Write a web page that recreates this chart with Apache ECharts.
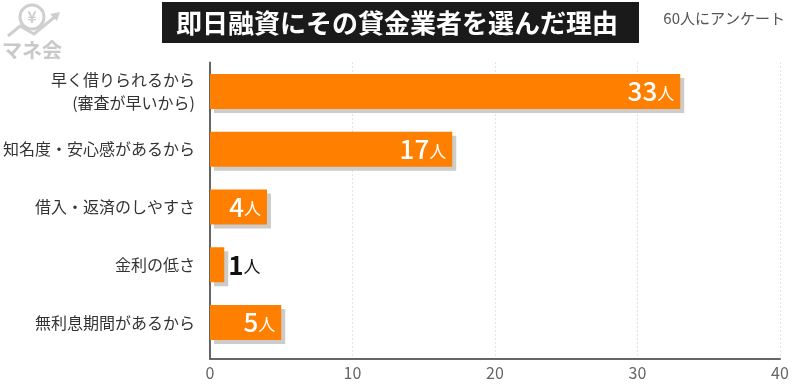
<!DOCTYPE html>
<html><head><meta charset="utf-8">
<script src="https://cdn.jsdelivr.net/npm/echarts@6/dist/echarts.min.js"></script>
<style>html,body{margin:0;padding:0;background:#fff}#c{width:800px;height:390px}</style>
</head><body><div id="c"></div>
<script>
const categories = ['早く借りられるから\n(審査が早いから)', '知名度・安心感があるから', '借入・返済のしやすさ', '金利の低さ', '無利息期間があるから'];
const values = [33, 17, 4, 1, 5];
const xTicks = [0, 10, 20, 30, 40];
const titleText = '即日融資にその貸金業者を選んだ理由';
const noteText = '60人にアンケート';

const FONT = '"Noto Sans CJK JP", "Noto Sans", sans-serif';
const chart = echarts.init(document.getElementById('c'), null, {renderer: 'canvas'});

const barData = values.map(v => {
  const d = {value: v};
  if (v < 3) {
    d.label = {position: 'right', distance: 4, rich: {a: {color: '#111', fontSize: 26, fontWeight: 'bold', fontFamily: FONT}, b: {color: '#111', fontSize: 17, fontFamily: FONT, padding: [4, 0, 0, 0]}}};
  }
  return d;
});

chart.setOption({
  animation: false,
  textStyle: {fontFamily: FONT},
  grid: [
    {left: 210, right: 20, top: 62.6, height: 288.8},
    {left: 210, right: 20, top: 62.6, bottom: 31}
  ],
  xAxis: [
    {gridIndex: 0, type: 'value', min: xTicks[0], max: xTicks[xTicks.length - 1], interval: 10, show: false},
    {gridIndex: 1, type: 'value', min: xTicks[0], max: xTicks[xTicks.length - 1], interval: 10,
     axisLine: {show: true, lineStyle: {color: '#666', width: 2}},
     axisTick: {show: false},
     axisLabel: {color: '#666', fontSize: 16, margin: 6, fontFamily: FONT},
     splitLine: {show: true, lineStyle: {color: '#ccc', type: [1, 3], width: 1}}}
  ],
  yAxis: [
    {gridIndex: 0, type: 'category', data: categories, inverse: true,
     axisLine: {show: false}, axisTick: {show: false},
     axisLabel: {color: '#333', fontSize: 16, margin: 15, lineHeight: 23, align: 'right', fontFamily: FONT}},
    {gridIndex: 1, type: 'value', min: 0, max: 1,
     axisLine: {show: true, lineStyle: {color: '#666', width: 2}},
     axisTick: {show: false}, axisLabel: {show: false}, splitLine: {show: false}}
  ],
  series: [{
    type: 'bar', xAxisIndex: 0, yAxisIndex: 0,
    data: barData, barWidth: 35,
    itemStyle: {color: '#FF7F00', shadowColor: '#cccccc', shadowOffsetX: 4, shadowOffsetY: 4, shadowBlur: 0},
    label: {show: true, position: 'insideRight', distance: 6,
      formatter: '{a|{c}}{b|人}',
      rich: {a: {color: '#fff', fontSize: 26, fontWeight: 500, fontFamily: FONT}, b: {color: '#fff', fontSize: 17, fontFamily: FONT, padding: [4, 0, 0, 0]}}}
  }],
  graphic: [
    {type: 'rect', shape: {x: 162, y: 2, width: 477, height: 41}, style: {fill: '#1a1a1a'}},
    {type: 'text', x: 397, y: 23, style: {text: titleText, fill: '#fff', fontSize: 26, fontWeight: 'bold', fontFamily: FONT, align: 'center', verticalAlign: 'middle'}},
    {type: 'text', x: 785, y: 18, style: {text: noteText, fill: '#555', fontSize: 15, fontFamily: FONT, align: 'right', verticalAlign: 'middle'}},
    {type: 'circle', shape: {cx: 32, cy: 17, r: 12}, style: {fill: 'none', stroke: '#cfcfcf', lineWidth: 3}},
    {type: 'text', x: 32, y: 17, style: {text: '¥', fill: '#cfcfcf', fontSize: 16, fontWeight: 'bold', fontFamily: FONT, align: 'center', verticalAlign: 'middle'}},
    {type: 'polyline', shape: {points: [[8, 36], [20, 26], [34, 34], [56, 16]]}, style: {fill: 'none', stroke: '#cfcfcf', lineWidth: 3}},
    {type: 'polygon', shape: {points: [[60, 12], [50, 14], [57, 21]]}, style: {fill: '#cfcfcf'}},
    {type: 'text', x: 32, y: 50, style: {text: 'マネ会', fill: '#c8c8c8', fontSize: 20, fontWeight: 'bold', fontFamily: FONT, align: 'center', verticalAlign: 'middle'}}
  ]
});
</script></body></html>
